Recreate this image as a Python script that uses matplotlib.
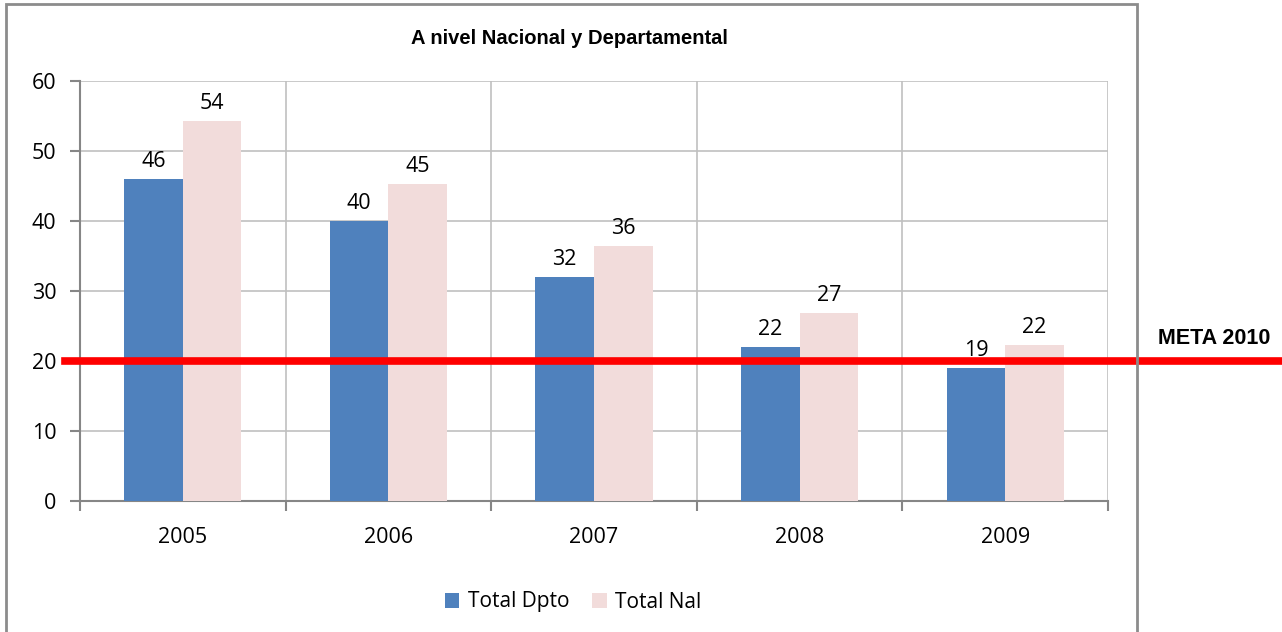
import numpy as np
import matplotlib.pyplot as plt
from matplotlib.patches import Rectangle

years = ['2005', '2006', '2007', '2008', '2009']
total_dpto = [46, 40, 32, 22, 19]
total_nal = [54.3, 45.3, 36.4, 26.9, 22.3]
meta_2010 = 20

plt.rcParams['font.family'] = ['Open Sans', 'DejaVu Sans']

fig = plt.figure(figsize=(12.82, 6.32), dpi=100)
W, H = 1282, 632
ax = fig.add_axes([80 / W, 1 - 501 / H, 1028 / W, 420 / H])

# outer chart border
fig.patches.append(Rectangle((6 / W, -0.01), 1131 / W, 1 - 4 / H + 0.01,
                             transform=fig.transFigure, fill=False,
                             edgecolor='#8c8c8c', linewidth=2))

x = np.arange(len(years))
w = 0.285
b1 = ax.bar(x - w / 2, total_dpto, w, color='#4f81bd', label='Total Dpto', zorder=3)
b2 = ax.bar(x + w / 2, total_nal, w, color='#f2dcdb', label='Total Nal', zorder=3)
ax.bar_label(b1, fmt='%.0f', padding=5, fontsize=15.5)
ax.bar_label(b2, fmt='%.0f', padding=5, fontsize=15.5)

ax.set_xlim(-0.5, len(years) - 0.5)
ax.set_ylim(0, 60)
ax.set_yticks(range(0, 61, 10))
ax.set_xticks(x)
ax.set_xticklabels(years)
ax.set_xticks(np.arange(-0.5, len(years), 1), minor=True)
ax.tick_params(axis='x', which='major', length=0, pad=19, labelsize=15.5)
ax.tick_params(axis='x', which='minor', length=7, color='#868686', width=1.5)
ax.tick_params(axis='y', length=7, color='#868686', width=1.5, labelsize=15.5, pad=10)

ax.grid(axis='y', color='#c0c0c0', linewidth=1.2, zorder=0)
ax.grid(axis='x', which='minor', color='#c0c0c0', linewidth=1.2, zorder=0)
for s in ['top', 'right']:
    ax.spines[s].set_visible(False)
for s in ['left', 'bottom']:
    ax.spines[s].set_color('#868686')
    ax.spines[s].set_linewidth(1.5)

# META 2010 line
ax.axhline(meta_2010, xmin=-0.0146, xmax=1.17, color='#ff0000', linewidth=5.5,
           clip_on=False, zorder=4)
fig.text(1214 / W, 1 - 338 / H, 'META 2010', family='Liberation Sans',
         fontweight='bold', fontsize=15.5, ha='center', va='center')

fig.text(569 / W, 1 - 38 / H, 'A nivel Nacional y Departamental',
         family='Liberation Sans', fontweight='bold', fontsize=14.5,
         ha='center', va='center')

fig.legend(loc='center', bbox_to_anchor=(573 / W, 1 - 602 / H), ncol=2,
           frameon=False, fontsize=15, handlelength=0.7, handleheight=0.7,
           columnspacing=1.1, handletextpad=0.4)

fig.savefig('out.png', dpi=100)
